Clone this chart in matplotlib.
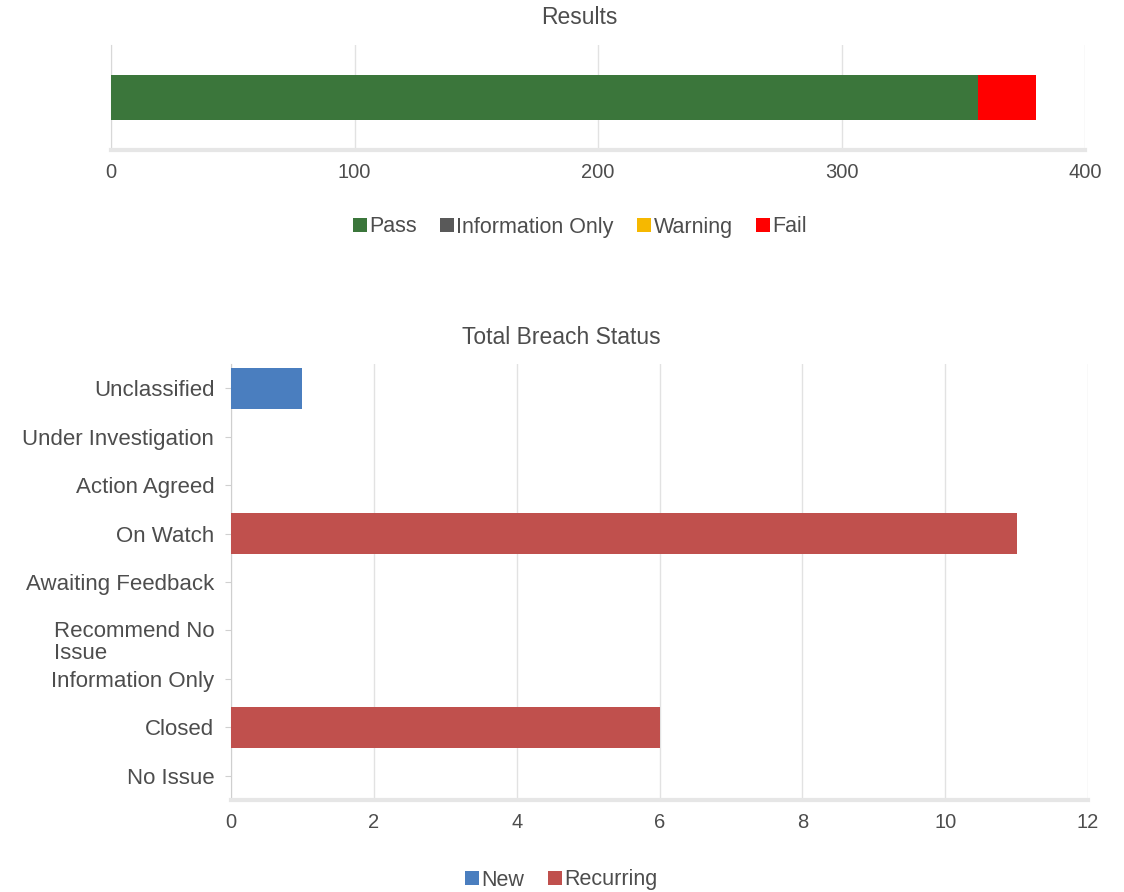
import matplotlib
matplotlib.use("Agg")
import matplotlib.pyplot as plt
import matplotlib.transforms as mtransforms
from matplotlib.patches import Patch
import numpy as np

plt.rcParams['font.family'] = ['Liberation Sans', 'DejaVu Sans']

# ---- Data: Results chart ----
result_series = ["Pass", "Information Only", "Warning", "Fail"]
result_values = [356, 0, 0, 24]
result_colors = ["#3b763b", "#595959", "#f6b800", "#ff0000"]
result_xticks = [0, 100, 200, 300, 400]

# ---- Data: Total Breach Status chart ----
breach_categories = ["Unclassified", "Under Investigation", "Action Agreed", "On Watch",
                     "Awaiting Feedback", "Recommend No\nIssue", "Information Only",
                     "Closed", "No Issue"]
breach_new = [1, 0, 0, 0, 0, 0, 0, 0, 0]
breach_recurring = [0, 0, 0, 11, 0, 0, 0, 6, 0]
breach_series = ["New", "Recurring"]
breach_colors = ["#4a7ebf", "#c0504d"]
breach_xticks = [0, 2, 4, 6, 8, 10, 12]

TXT = "#4d4d4d"
GRID = "#e2e2e2"

fig = plt.figure(figsize=(11.24, 8.92), dpi=100)
W, H = 1124, 892

def ax_rect(l, t, r, b):
    return [l / W, 1 - b / H, (r - l) / W, (b - t) / H]

# ---------- Top chart ----------
ax1 = fig.add_axes(ax_rect(111, 45, 1085, 150))
left = 0
for name, val, col in zip(result_series, result_values, result_colors):
    ax1.barh([0], [val], left=left, height=0.43, color=col, label=name, zorder=3)
    left += val
ax1.set_xlim(0, 400)
ax1.set_ylim(-0.5, 0.5)
ax1.set_xticks(result_xticks)
ax1.set_xticklabels([str(v) for v in result_xticks], fontsize=14.5, color=TXT)
ax1.set_yticks([])
ax1.tick_params(axis='x', length=0, pad=9)
ax1.grid(axis='x', color=GRID, linewidth=1, zorder=0)
for s in ["top", "right"]:
    ax1.spines[s].set_visible(False)
ax1.spines["left"].set_color("#d8d8d8")
ax1.spines["left"].set_linestyle((0, (2, 1)))
ax1.spines["bottom"].set_color("#e6e6e6")
ax1.spines["bottom"].set_linewidth(3)
fig.text(579 / W, 1 - 18 / H, "Results", ha='center', va='center', fontsize=16.5, color=TXT)

handles1 = [Patch(facecolor=c, edgecolor='none') for c in result_colors]
fig.legend(handles1, result_series, loc='center', bbox_to_anchor=(580 / W, 1 - 227 / H),
           ncol=4, frameon=False, fontsize=15.5, handlelength=0.65, handleheight=0.65,
           handletextpad=0.1, columnspacing=1.1, labelcolor=TXT)

# ---------- Bottom chart ----------
ax2 = fig.add_axes(ax_rect(231, 364, 1088, 800))
y = np.arange(len(breach_categories))
ax2.barh(y, breach_new, height=0.85, color=breach_colors[0], zorder=3)
ax2.barh(y, breach_recurring, left=breach_new, height=0.85, color=breach_colors[1], zorder=3)
ax2.set_xlim(0, 12)
ax2.set_ylim(len(breach_categories) - 0.5, -0.5)
ax2.set_xticks(breach_xticks)
ax2.set_xticklabels([str(v) for v in breach_xticks], fontsize=14.5, color=TXT)
ax2.set_yticks(y)
ax2.set_yticklabels(breach_categories, fontsize=16, color=TXT)
ax2.tick_params(axis='x', length=0, pad=9)
ax2.tick_params(axis='y', length=4, color="#d0d0d0", pad=8)
ax2.grid(axis='x', color=GRID, linewidth=1, zorder=0)
for s in ["top", "right"]:
    ax2.spines[s].set_visible(False)
ax2.spines["left"].set_color("#cfcfcf")
ax2.spines["bottom"].set_color("#e6e6e6")
ax2.spines["bottom"].set_linewidth(3)

# the wrapped label: first line at tick, left-aligned lines
for lab in ax2.get_yticklabels():
    if "\n" in lab.get_text():
        lab.set_multialignment('left')
        lab.set_verticalalignment('top')
        lab.set_linespacing(1.1)
        lab.set_transform(lab.get_transform() + mtransforms.ScaledTranslation(0, 7 / 72, fig.dpi_scale_trans))

fig.text(561 / W, 1 - 338 / H, "Total Breach Status", ha='center', va='center', fontsize=16.5, color=TXT)

handles2 = [Patch(facecolor=c, edgecolor='none') for c in breach_colors]
fig.legend(handles2, breach_series, loc='center', bbox_to_anchor=(561 / W, 1 - 880 / H),
           ncol=2, frameon=False, fontsize=15.5, handlelength=0.65, handleheight=0.65,
           handletextpad=0.1, columnspacing=1.1, labelcolor=TXT)

fig.savefig("out.png", dpi=100)
